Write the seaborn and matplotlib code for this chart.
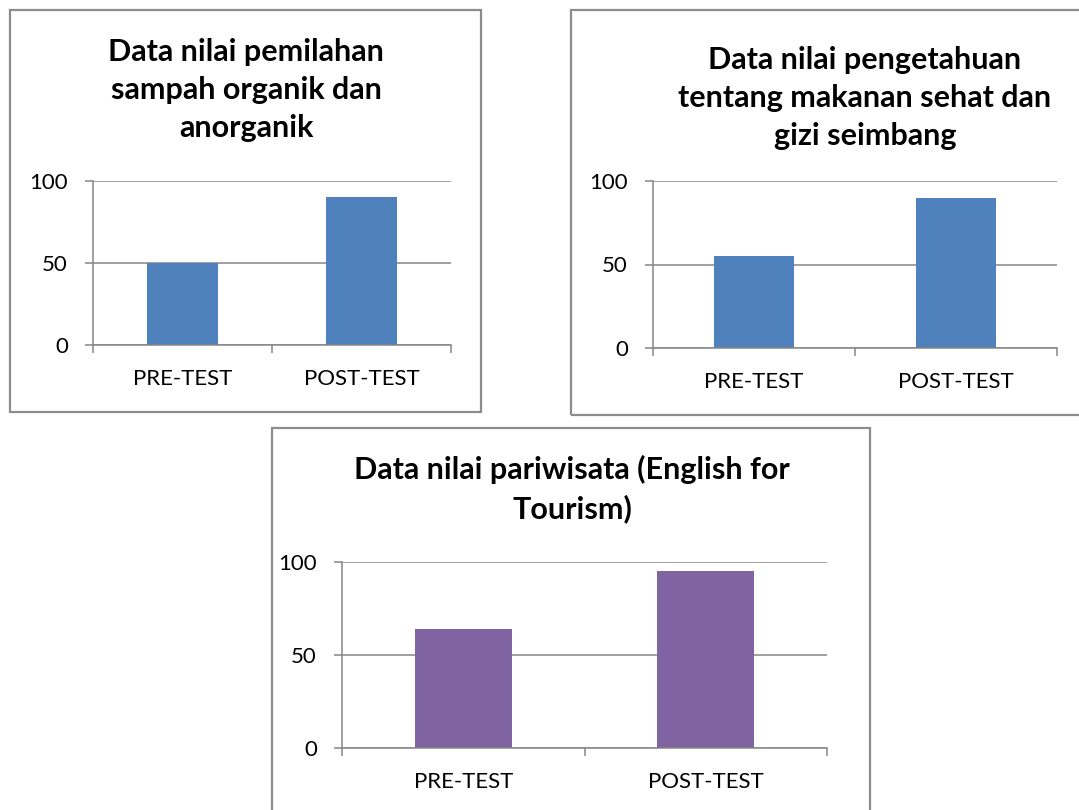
import matplotlib
matplotlib.use("Agg")
import matplotlib.pyplot as plt
from matplotlib.patches import Rectangle
from matplotlib.ticker import FixedLocator
import seaborn as sns

# ---- data ----
categories = ["PRE-TEST", "POST-TEST"]
values_sampah = [50, 90]
values_gizi = [55, 90]
values_pariwisata = [64, 95]
title_sampah = "Data nilai pemilahan\nsampah organik dan\nanorganik"
title_gizi = "Data nilai pengetahuan\ntentang makanan sehat dan\ngizi seimbang"
title_pariwisata = "Data nilai pariwisata (English for\nTourism)"
y_ticks = [0, 50, 100]

BLUE = "#4F81BD"
PURPLE = "#8064A2"
GRID = "#868686"
BORDER = "#8C8C8C"

sns.set_style("white")
plt.rcParams["font.family"] = ["Lato", "DejaVu Sans"]

W, H = 1079, 810
fig = plt.figure(figsize=(W / 100, H / 100), dpi=100)
fig.patch.set_facecolor("white")


def px_axes(x0, x1, y0, y1):
    return fig.add_axes([x0 / W, 1 - y1 / H, (x1 - x0) / W, (y1 - y0) / H])


def box(x0, y0, x1, y1):
    fig.add_artist(Rectangle((x0 / W, 1 - y1 / H), (x1 - x0) / W, (y1 - y0) / H,
                             transform=fig.transFigure, fill=False,
                             edgecolor=BORDER, lw=1.6, clip_on=False))


def draw(ax, values, color):
    sns.barplot(x=categories, y=values, color=color, width=0.4, saturation=1,
                ax=ax, edgecolor="none")
    ax.set_xlim(-0.5, 1.5)
    ax.set_ylim(0, 100)
    ax.set_yticks(y_ticks)
    ax.set_yticklabels([str(v) for v in y_ticks])
    ax.yaxis.grid(True, color=GRID, lw=1.1)
    ax.set_axisbelow(True)
    ax.set_xlabel("")
    ax.set_ylabel("")
    for s in ["top", "right"]:
        ax.spines[s].set_visible(False)
    for s in ["left", "bottom"]:
        ax.spines[s].set_color(GRID)
        ax.spines[s].set_linewidth(1.1)
    ax.xaxis.set_minor_locator(FixedLocator([-0.5, 0.5, 1.5]))
    ax.tick_params(axis="x", which="major", length=0, pad=17, labelsize=16,
                   labelcolor="black")
    ax.tick_params(axis="x", which="minor", length=6, width=1.1, color=GRID,
                   direction="out", bottom=True)
    ax.tick_params(axis="y", which="major", length=6, width=1.1, color=GRID,
                   direction="out", left=True, pad=12, labelsize=16,
                   labelcolor="black")


# boxes
box(10, 10, 481, 412)
box(571, 10, 1090, 415)
box(272, 428, 870, 830)

ax1 = px_axes(93, 451, 181, 345)
draw(ax1, values_sampah, BLUE)
ax2 = px_axes(653, 1057, 181, 348)
draw(ax2, values_gizi, BLUE)
ax3 = px_axes(342, 827, 562, 748)
draw(ax3, values_pariwisata, PURPLE)

tkw = dict(ha="center", va="center", fontsize=22, fontweight="bold",
           linespacing=1.42, color="black", transform=fig.transFigure)
fig.text(246 / W, 1 - 90 / H, title_sampah, **tkw)
fig.text(865 / W, 1 - 98 / H, title_gizi, **tkw)
fig.text(572 / W, 1 - 489 / H, title_pariwisata, **tkw)

fig.savefig("out.png", dpi=100, facecolor="white")
